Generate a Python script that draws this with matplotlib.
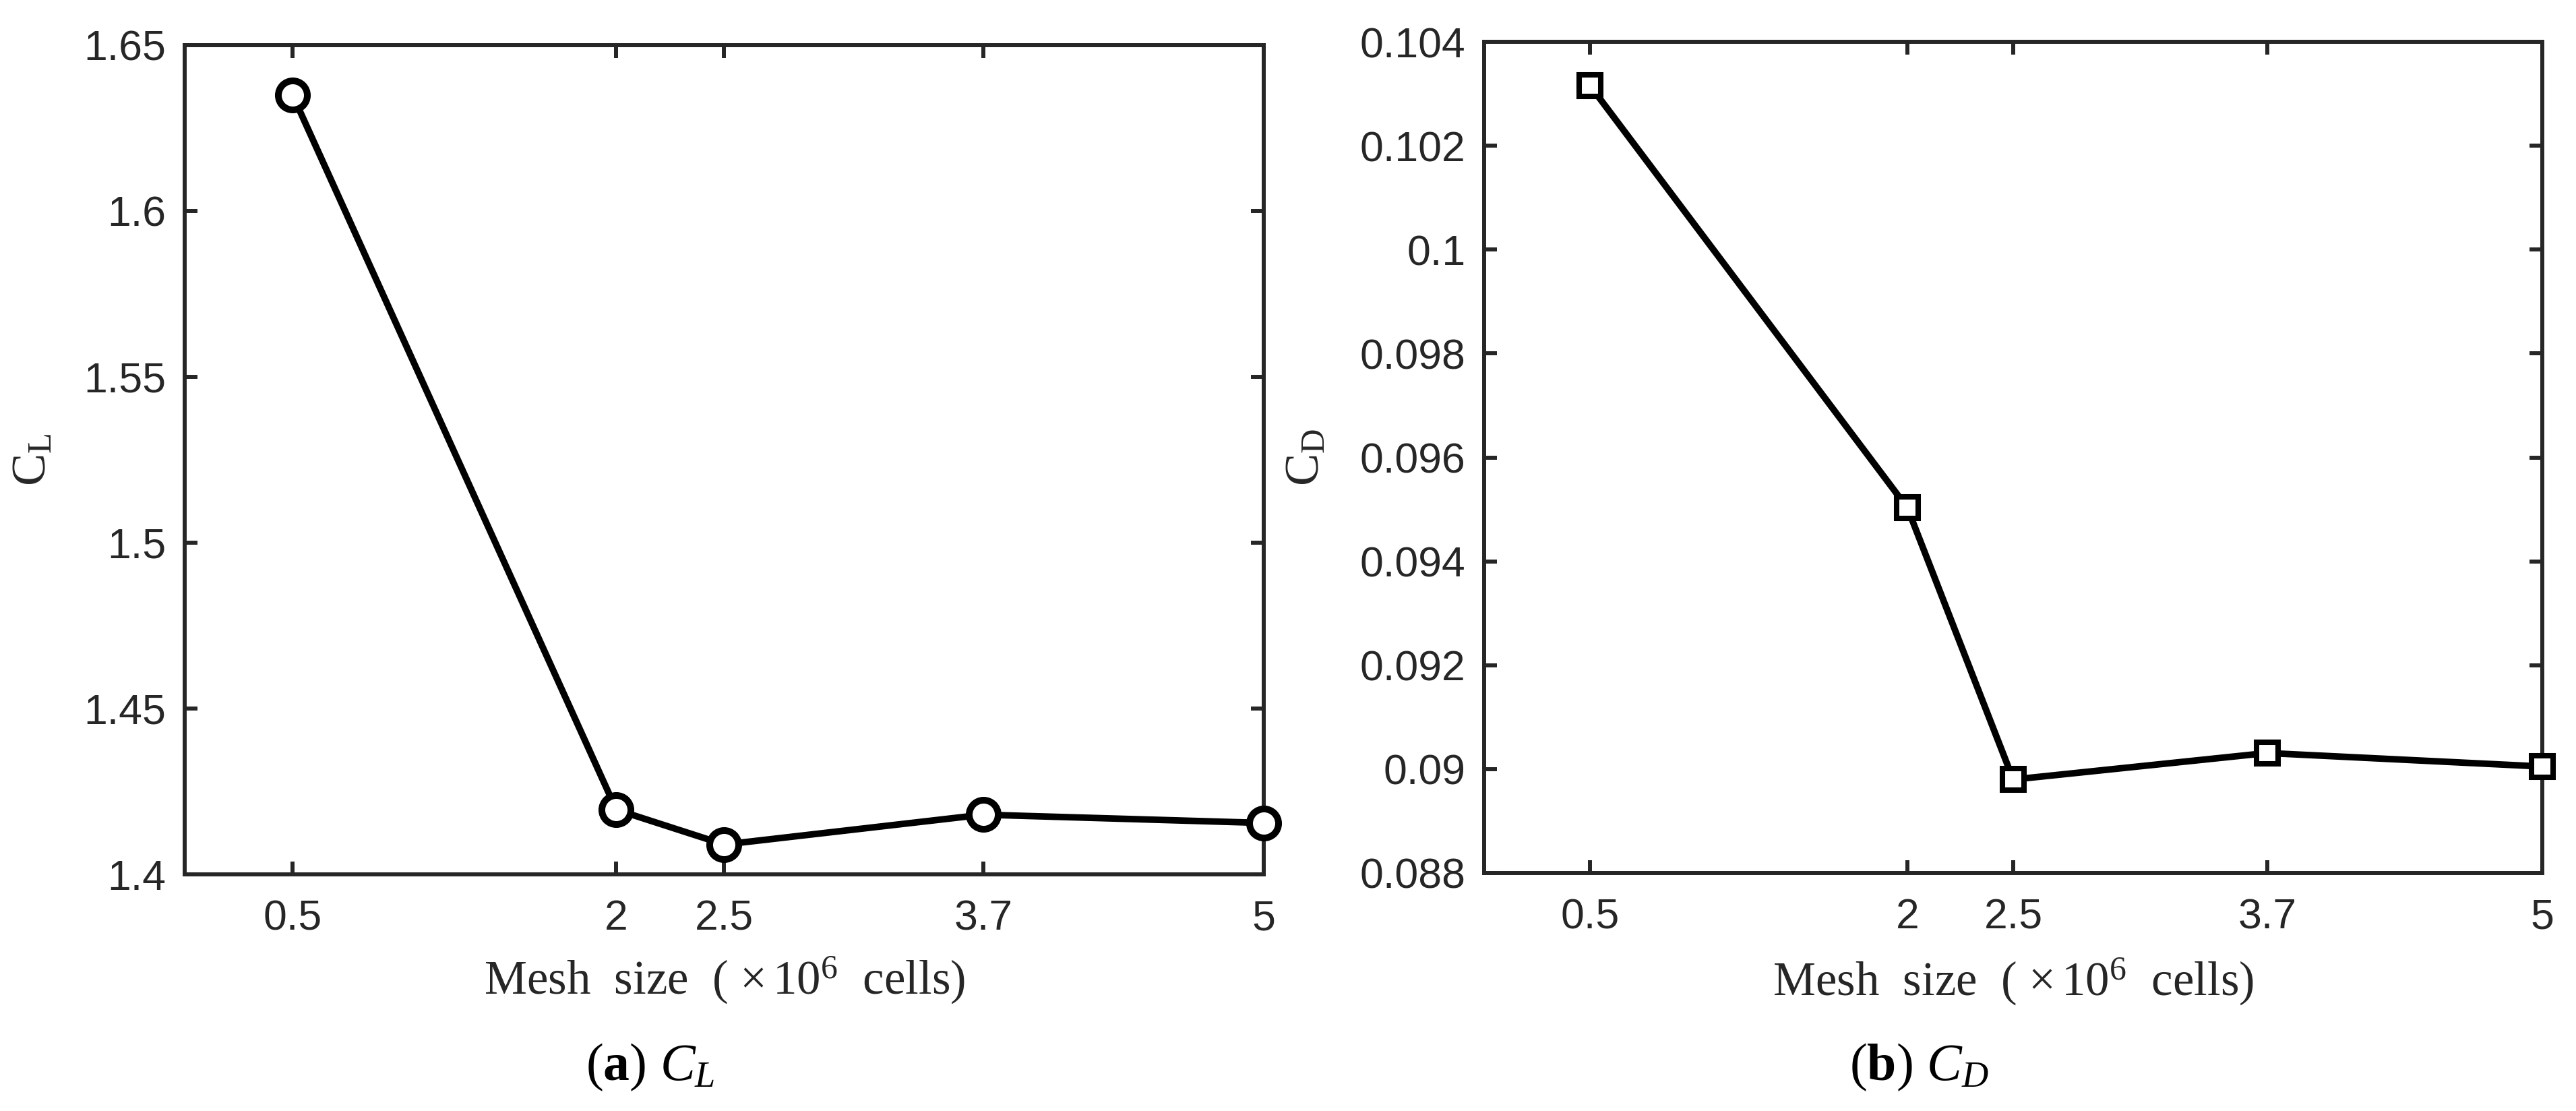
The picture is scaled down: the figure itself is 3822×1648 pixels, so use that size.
import matplotlib
matplotlib.use("Agg")
import matplotlib.pyplot as plt

# ---- data ----
mesh_size = [0.5, 2.0, 2.5, 3.7, 5.0]
cl_values = [1.635, 1.4195, 1.409, 1.418, 1.4155]
cd_values = [0.10316, 0.09503, 0.08980, 0.09031, 0.09005]

x_ticks = [0.5, 2, 2.5, 3.7, 5]
x_tick_labels = ["0.5", "2", "2.5", "3.7", "5"]
cl_ticks = [1.4, 1.45, 1.5, 1.55, 1.6, 1.65]
cl_tick_labels = ["1.4", "1.45", "1.5", "1.55", "1.6", "1.65"]
cd_ticks = [0.088, 0.090, 0.092, 0.094, 0.096, 0.098, 0.100, 0.102, 0.104]
cd_tick_labels = ["0.088", "0.09", "0.092", "0.094", "0.096", "0.098", "0.1", "0.102", "0.104"]

xlabel_text = r"Mesh  size  ( $\times\,10^{6}$  cells)"
ylabels = [r"C$_{\mathrm{L}}$", r"C$_{\mathrm{D}}$"]
captions = [r"($\mathbf{a}$) $C_L$", r"($\mathbf{b}$) $C_D$"]

plt.rcParams["mathtext.fontset"] = "custom"
plt.rcParams["mathtext.rm"] = "Liberation Serif"
plt.rcParams["mathtext.it"] = "Liberation Serif:italic"
plt.rcParams["mathtext.bf"] = "Liberation Serif:bold"

W, H = 3823, 1648
fig = plt.figure(figsize=(W / 100, H / 100), dpi=100)

spine_col = "#262626"
tick_font = dict(family="Liberation Sans", size=45, color=spine_col)
serif = "Liberation Serif"

def px_axes(l, t, r, b):
    return fig.add_axes([l / W, 1 - b / H, (r - l) / W, (b - t) / H])

ax1 = px_axes(274, 67, 1875, 1297)
ax2 = px_axes(2202, 62, 3772, 1295)

def style(ax, yt, ytl, ylim, ylab, ylab_x, xlab_y):
    ax.set_xlim(0, 5)
    ax.set_ylim(*ylim)
    ax.set_xticks(x_ticks)
    ax.set_xticklabels(x_tick_labels, fontdict=tick_font)
    ax.set_yticks(yt)
    ax.set_yticklabels(ytl, fontdict=tick_font)
    for s in ax.spines.values():
        s.set_linewidth(4.3)
        s.set_color(spine_col)
    ax.tick_params(axis="both", direction="in", length=14, width=4.3,
                   color=spine_col, top=True, right=True)
    ax.tick_params(axis="y", pad=20)
    ax.tick_params(axis="x", pad=26)
    ax.set_xlabel(xlabel_text, fontsize=51, family=serif, color=spine_col, va="baseline")
    ax.xaxis.set_label_coords(0.5, xlab_y)
    ax.set_ylabel(ylab, fontsize=52, family=serif, color=spine_col, va="center")
    ax.yaxis.set_label_coords(ylab_x, 0.5)

ax1.plot(mesh_size, cl_values, color="black", linewidth=7.0, marker="o",
         markersize=31, markeredgewidth=7.2, markerfacecolor="white",
         markeredgecolor="black", clip_on=False, zorder=5)
style(ax1, cl_ticks, cl_tick_labels, (1.4, 1.65), ylabels[0], -0.140, -0.1447)

ax2.plot(mesh_size, cd_values, color="black", linewidth=7.0, marker="s",
         markersize=23.4, markeredgewidth=5.8, markerfacecolor="white",
         markeredgecolor="black", clip_on=False, zorder=5)
style(ax2, cd_ticks, cd_tick_labels, (0.088, 0.104), ylabels[1], -0.1675, -0.147)

fig.text(965 / W, 1 - 1602 / H, captions[0], fontsize=56, family=serif,
         ha="center", va="baseline", color="black")
fig.text(2847 / W, 1 - 1602 / H, captions[1], fontsize=56, family=serif,
         ha="center", va="baseline", color="black")

fig.savefig("out.png", dpi=100)
